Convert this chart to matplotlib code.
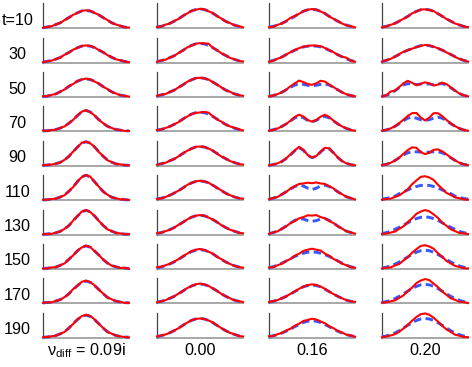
import matplotlib.pyplot as plt
import numpy as np

plt.rcParams['font.family'] = 'Liberation Sans'
plt.rcParams['mathtext.fontset'] = 'custom'
plt.rcParams['mathtext.rm'] = 'Liberation Sans'
plt.rcParams['mathtext.it'] = 'Liberation Sans:italic'

# row / column labels
row_labels = ['t=10', '30', '50', '70', '90', '110', '130', '150', '170', '190']
col_labels = [r'$\mathrm{\nu}_{\mathrm{diff}}$ = 0.09i', '0.00', '0.16', '0.20']

# sample positions across each panel
x = np.linspace(-1, 1, 21)

# profiles in % of panel height
# column 1: nu_diff = 0.09i
theory_009i = [
    [3, 5, 9, 15, 22, 32, 43, 53, 62, 69, 71, 69, 62, 53, 43, 32, 22, 15, 9, 5, 3],
    [3, 5, 9, 14, 21, 31, 41, 51, 60, 66, 68, 66, 60, 51, 41, 31, 21, 14, 9, 5, 3],
    [2, 4, 8, 13, 21, 31, 42, 53, 63, 70, 72, 70, 63, 53, 42, 31, 21, 13, 8, 4, 2],
    [2, 3, 5, 8, 13, 21, 32, 47, 63, 78, 84, 78, 63, 47, 32, 21, 13, 8, 5, 3, 2],
    [2, 3, 5, 8, 14, 23, 38, 56, 75, 91, 96, 91, 75, 56, 38, 23, 14, 8, 5, 3, 2],
    [1, 2, 4, 7, 12, 21, 35, 53, 74, 93, 100, 93, 74, 53, 35, 21, 12, 7, 4, 2, 1],
    [1, 2, 4, 7, 13, 22, 36, 55, 74, 91, 97, 91, 74, 55, 36, 22, 13, 7, 4, 2, 1],
    [2, 3, 5, 8, 14, 23, 38, 55, 72, 87, 92, 87, 72, 55, 38, 23, 14, 8, 5, 3, 2],
    [2, 3, 5, 9, 15, 24, 38, 55, 71, 84, 89, 84, 71, 55, 38, 24, 15, 9, 5, 3, 2],
    [2, 3, 5, 9, 15, 24, 38, 56, 72, 85, 90, 85, 72, 56, 38, 24, 15, 9, 5, 3, 2],
]
sim_009i = [
    [2, 6, 8, 16, 21, 33, 42, 54, 61, 70, 72, 70, 61, 54, 42, 33, 21, 15, 10, 4, 3],
    [2, 6, 8, 15, 20, 32, 40, 52, 59, 67, 69, 67, 61, 50, 42, 30, 22, 13, 10, 4, 2],
    [3, 4, 9, 12, 22, 30, 44, 52, 65, 70, 74, 71, 62, 54, 41, 32, 20, 14, 7, 5, 2],
    [4, 2, 6, 7, 14, 20, 33, 46, 64, 79, 85, 77, 64, 46, 33, 20, 14, 7, 6, 2, 2],
    [2, 4, 5, 9, 13, 24, 37, 57, 74, 92, 97, 90, 76, 55, 39, 22, 15, 7, 6, 2, 2],
    [2, 2, 5, 6, 13, 20, 36, 52, 75, 92, 101, 94, 73, 54, 34, 22, 11, 8, 3, 3, 1],
    [1, 3, 3, 8, 12, 23, 35, 56, 73, 92, 98, 90, 75, 54, 37, 21, 14, 6, 5, 1, 2],
    [2, 2, 6, 7, 15, 22, 39, 54, 73, 86, 93, 88, 71, 56, 37, 24, 13, 9, 4, 5, 1],
    [2, 4, 4, 10, 14, 25, 37, 57, 70, 86, 91, 85, 72, 54, 39, 23, 16, 8, 6, 2, 2],
    [2, 3, 6, 8, 16, 23, 39, 55, 74, 86, 92, 87, 73, 55, 39, 23, 16, 8, 5, 3, 1],
]

# column 2: nu_diff = 0.00 (same theory curve in every row)
theory_000 = [5, 8, 13, 20, 28, 38, 49, 60, 69, 75, 77, 75, 69, 60, 49, 38, 28, 20, 13, 8, 5]
sim_000 = [
    [6, 7, 15, 19, 30, 37, 50, 59, 70, 74, 78, 76, 68, 61, 48, 39, 27, 21, 12, 9, 4],
    [4, 9, 12, 21, 27, 39, 48, 61, 68, 76, 78, 77, 76, 59, 50, 37, 29, 19, 14, 7, 5],
    [5, 10, 12, 21, 27, 39, 48, 61, 69, 76, 77, 75, 70, 59, 50, 38, 27, 21, 12, 8, 5],
    [6, 8, 14, 20, 29, 37, 50, 59, 70, 74, 76, 78, 75, 60, 48, 39, 27, 20, 15, 9, 4],
    [4, 9, 12, 21, 27, 38, 50, 60, 68, 76, 77, 76, 69, 61, 48, 37, 29, 19, 13, 7, 5],
    [5, 7, 13, 20, 29, 38, 48, 61, 69, 75, 78, 75, 70, 59, 49, 39, 27, 20, 13, 8, 6],
    [5, 8, 14, 19, 28, 39, 49, 60, 70, 75, 78, 76, 68, 60, 50, 37, 28, 19, 14, 7, 5],
    [7, 9, 15, 21, 30, 39, 51, 61, 71, 77, 80, 76, 69, 61, 48, 39, 27, 20, 12, 8, 5],
    [4, 8, 13, 21, 28, 39, 49, 61, 69, 76, 79, 76, 70, 59, 50, 37, 28, 20, 12, 9, 5],
    [5, 9, 13, 20, 29, 38, 50, 60, 70, 75, 77, 75, 69, 61, 49, 38, 28, 19, 14, 7, 5],
]

# column 3: nu_diff = 0.16
theory_016 = [
    [5, 8, 13, 20, 28, 38, 48, 59, 68, 74, 76, 74, 68, 59, 48, 38, 28, 20, 13, 8, 5],
    [5, 9, 15, 23, 32, 41, 50, 57, 63, 66, 67, 66, 63, 57, 50, 41, 32, 23, 15, 9, 5],
    [3, 6, 11, 19, 29, 39, 48, 53, 51, 47, 45, 47, 51, 53, 48, 39, 29, 19, 11, 6, 3],
    [3, 7, 12, 20, 30, 42, 54, 60, 55, 44, 39, 44, 55, 60, 54, 42, 30, 20, 12, 7, 3],
    [2, 5, 9, 17, 29, 44, 60, 72, 62, 42, 33, 38, 55, 70, 68, 52, 33, 19, 10, 5, 2],
    [4, 8, 14, 23, 34, 45, 55, 60, 57, 48, 43, 48, 57, 60, 55, 45, 34, 23, 14, 8, 4],
    [4, 8, 14, 23, 34, 46, 57, 64, 62, 56, 53, 56, 62, 64, 57, 46, 34, 23, 14, 8, 4],
    [5, 9, 15, 23, 32, 41, 50, 57, 63, 67, 68, 67, 63, 57, 50, 41, 32, 23, 15, 9, 5],
    [5, 8, 13, 20, 28, 37, 47, 57, 66, 71, 73, 71, 66, 57, 47, 37, 28, 20, 13, 8, 5],
    [5, 8, 12, 19, 26, 35, 44, 53, 61, 66, 68, 66, 61, 53, 44, 35, 26, 19, 12, 8, 5],
]
sim_016 = [
    [4, 6, 14, 19, 29, 42, 49, 58, 69, 74, 77, 75, 67, 60, 47, 38, 29, 19, 12, 8, 4],
    [4, 8, 16, 22, 33, 42, 51, 58, 64, 67, 69, 68, 66, 59, 50, 42, 31, 24, 20, 8, 4],
    [3, 6, 12, 19, 30, 43, 55, 66, 60, 52, 49, 55, 65, 62, 50, 40, 29, 19, 11, 6, 3],
    [3, 6, 12, 20, 30, 43, 58, 67, 60, 46, 39, 46, 59, 67, 58, 43, 30, 20, 12, 6, 3],
    [2, 5, 10, 18, 30, 46, 62, 76, 64, 43, 33, 39, 57, 72, 70, 52, 34, 19, 10, 5, 2],
    [4, 9, 13, 24, 33, 47, 56, 65, 67, 70, 68, 71, 67, 65, 56, 47, 33, 24, 13, 9, 3],
    [3, 9, 13, 24, 33, 46, 54, 65, 70, 77, 76, 78, 70, 65, 54, 46, 33, 24, 13, 9, 4],
    [6, 7, 15, 21, 32, 40, 53, 61, 72, 77, 81, 77, 74, 61, 53, 40, 32, 21, 15, 7, 5],
    [5, 9, 13, 21, 28, 38, 48, 58, 67, 73, 76, 74, 67, 58, 47, 37, 28, 20, 13, 8, 6],
    [6, 7, 14, 19, 29, 36, 48, 56, 67, 71, 76, 73, 65, 58, 46, 38, 27, 21, 12, 9, 4],
]

# column 4: nu_diff = 0.20
theory_020 = [
    [5, 8, 13, 20, 28, 38, 48, 59, 68, 74, 76, 74, 68, 59, 48, 38, 28, 20, 13, 8, 5],
    [5, 9, 16, 24, 33, 42, 50, 57, 63, 68, 70, 68, 63, 57, 50, 42, 33, 24, 16, 9, 5],
    [3, 7, 14, 25, 37, 48, 54, 52, 50, 52, 53, 52, 50, 52, 54, 48, 37, 25, 14, 7, 3],
    [3, 6, 12, 20, 31, 43, 53, 57, 53, 47, 44, 47, 53, 57, 53, 43, 31, 20, 12, 6, 3],
    [3, 6, 12, 21, 32, 44, 52, 56, 56, 55, 54, 55, 56, 56, 52, 44, 32, 21, 12, 6, 3],
    [4, 7, 11, 16, 26, 34, 41, 49, 55, 59, 60, 59, 55, 49, 41, 34, 26, 16, 11, 7, 4],
    [4, 8, 13, 21, 29, 38, 47, 57, 64, 69, 71, 69, 64, 57, 47, 38, 29, 21, 13, 8, 4],
    [4, 7, 12, 19, 28, 38, 48, 58, 67, 73, 75, 73, 67, 58, 48, 38, 28, 19, 12, 7, 4],
    [4, 7, 12, 19, 28, 38, 49, 59, 68, 74, 76, 74, 68, 59, 49, 38, 28, 19, 12, 7, 4],
    [4, 7, 12, 19, 28, 39, 50, 60, 69, 75, 77, 75, 69, 60, 50, 39, 28, 19, 12, 7, 4],
]
sim_020 = [
    [4, 7, 14, 19, 29, 38, 47, 60, 67, 75, 76, 73, 69, 58, 49, 37, 29, 19, 14, 7, 5],
    [4, 10, 15, 24, 34, 44, 50, 56, 62, 67, 71, 69, 64, 58, 51, 41, 33, 23, 15, 10, 4],
    [3, 7, 22, 26, 40, 55, 65, 57, 47, 53, 59, 55, 46, 50, 58, 52, 39, 26, 14, 7, 3],
    [3, 6, 12, 21, 33, 47, 62, 73, 74, 56, 44, 55, 73, 73, 61, 46, 32, 21, 12, 6, 3],
    [3, 6, 12, 21, 33, 48, 63, 74, 72, 55, 47, 52, 64, 66, 58, 46, 33, 22, 12, 6, 3],
    [2, 5, 6, 13, 19, 31, 44, 64, 79, 93, 96, 91, 81, 62, 46, 29, 21, 11, 8, 3, 2],
    [3, 4, 8, 12, 23, 33, 50, 65, 83, 92, 98, 93, 81, 67, 48, 35, 21, 14, 6, 5, 2],
    [2, 5, 6, 14, 20, 34, 47, 65, 79, 92, 95, 90, 81, 63, 49, 32, 22, 12, 8, 3, 2],
    [3, 4, 8, 12, 22, 32, 49, 63, 81, 91, 97, 93, 79, 65, 47, 34, 20, 14, 6, 5, 1],
    [2, 5, 9, 14, 24, 37, 52, 68, 83, 94, 97, 92, 80, 65, 48, 33, 23, 12, 8, 3, 2],
]

theory = [theory_009i, [theory_000] * 10, theory_016, theory_020]
sim = [sim_009i, sim_000, sim_016, sim_020]

W, H = 472, 367
fig = plt.figure(figsize=(W / 100, H / 100), dpi=100)

col_left = [43, 157, 269, 382]
panel_w, panel_h = 86, 25
row_base = [28.3 + 34.38 * i for i in range(10)]

for c in range(4):
    for r in range(10):
        ax = fig.add_axes([col_left[c] / W, (H - row_base[r]) / H, panel_w / W, panel_h / H])
        ax.plot(x, theory[c][r], color='#3858ff', lw=2.1, dashes=(2.6, 1.5),
                zorder=3, clip_on=False)
        ax.plot(x, sim[c][r], color='#ff0000', lw=1.5, zorder=4, clip_on=False)
        ax.set_xlim(-1, 1)
        ax.set_ylim(0, 100)
        ax.spines['top'].set_visible(False)
        ax.spines['right'].set_visible(False)
        ax.spines['left'].set_color('#444444')
        ax.spines['left'].set_linewidth(0.9)
        ax.spines['bottom'].set_color('#909090')
        ax.spines['bottom'].set_linewidth(1.1)
        ax.set_xticks([])
        ax.set_yticks([])
        ax.patch.set_alpha(0)

for r in range(10):
    fig.text(17.5 / W, 1 - (row_base[r] - 8) / H, row_labels[r],
             ha='center', va='center', fontsize=11.7)

for c in range(4):
    fig.text((col_left[c] + panel_w / 2) / W, 1 - 355 / H, col_labels[c],
             ha='center', va='baseline', fontsize=11.7)

fig.savefig('out.png', dpi=100)
